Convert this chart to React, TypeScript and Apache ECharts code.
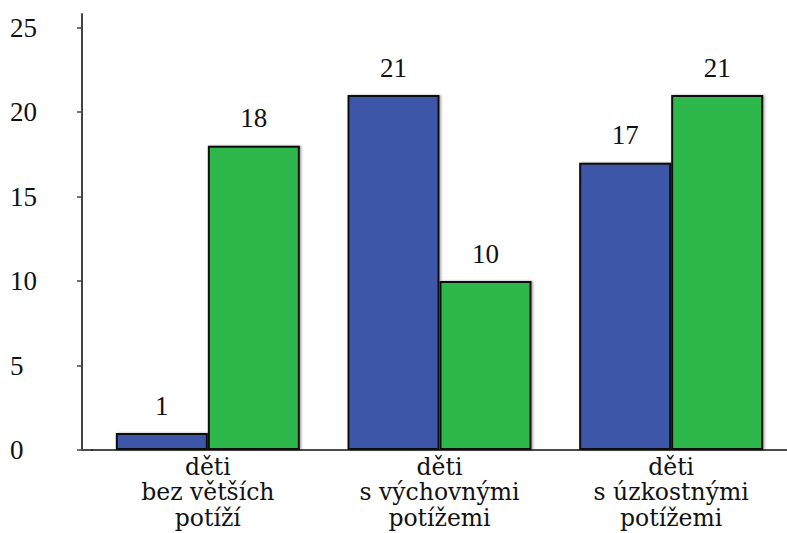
import React, { useEffect, useRef } from "react";
import * as echarts from "echarts";

const categories = ["děti\nbez větších\npotíží", "děti\ns výchovnými\npotížemi", "děti\ns úzkostnými\npotížemi"];
const blueValues = [1, 21, 17];
const greenValues = [18, 10, 21];
const yTicks = [0, 5, 10, 15, 20, 25];

const SERIF = "'Liberation Serif', 'Times New Roman', Times, serif";

export default function App() {
  const ref = useRef<HTMLDivElement>(null);
  useEffect(() => {
    if (!ref.current) return;
    const chart = echarts.init(ref.current, null, { renderer: "svg" });
    const labelStyle = {
      show: true,
      position: "top" as const,
      distance: 14,
      fontFamily: SERIF,
      fontSize: 27,
      color: "#111",
    };
    const itemBase = {
      borderColor: "#111",
      borderWidth: 2,
      shadowColor: "rgba(0,0,0,0.35)",
      shadowBlur: 2,
      shadowOffsetX: 1.5,
      shadowOffsetY: 0,
    };
    chart.setOption({
      animation: false,
      backgroundColor: "#fff",
      grid: { left: 92, right: 0, top: 14, bottom: 83, containLabel: false },
      xAxis: {
        type: "category",
        data: categories,
        axisLine: { lineStyle: { color: "#111", width: 1.5 } },
        axisTick: { show: false },
        axisLabel: {
          interval: 0,
          margin: 4,
          fontFamily: "'DejaVu Serif', serif",
          fontSize: 23.5,
          lineHeight: 25.5,
          color: "#111",
        },
      },
      yAxis: {
        type: "value",
        min: 0,
        max: 25.8,
        interval: 5,
        offset: 10,
        splitLine: { show: false },
        axisLine: { show: true, lineStyle: { color: "#444", width: 2 } },
        axisTick: { show: true, length: 5, customValues: yTicks, lineStyle: { color: "#444", width: 1.5 } },
        axisLabel: {
          customValues: yTicks,
          align: "left",
          margin: 72,
          fontFamily: SERIF,
          fontSize: 27,
          color: "#111",
        },
      },
      graphic: [
        {
          type: "line",
          shape: { x1: 82, y1: 450, x2: 93, y2: 450 },
          style: { stroke: "#111", lineWidth: 1.5 },
        },
      ],
      series: [
        {
          type: "bar",
          data: blueValues,
          barWidth: 92,
          barGap: "0%",
          itemStyle: { ...itemBase, color: "#3d56a8" },
          label: labelStyle,
        },
        {
          type: "bar",
          data: greenValues,
          barWidth: 92,
          barGap: "0%",
          itemStyle: { ...itemBase, color: "#2eb84b" },
          label: labelStyle,
        },
      ],
    });
    return () => chart.dispose();
  }, []);
  return <div ref={ref} style={{ position: "fixed", left: 0, top: 0, width: 787, height: 533 }} />;
}
